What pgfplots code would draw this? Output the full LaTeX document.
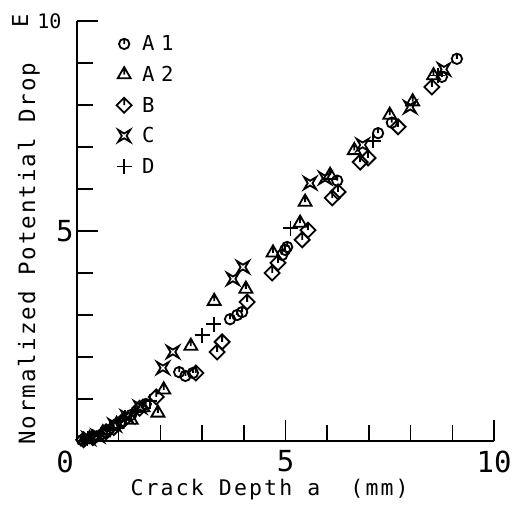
\documentclass[border=0pt]{standalone}
\usepackage{pgfplots}
\pgfplotsset{compat=1.18}
\usepackage{fontspec}
\setmainfont{DejaVu Sans Mono}
\newfontfamily\xlabfont{DejaVu Sans Mono}[LetterSpace=10]
\newfontfamily\ylabfont{DejaVu Sans Mono}[LetterSpace=8.7]
\newfontfamily\legfont{DejaVu Sans Mono}[LetterSpace=32]

% plotter-style marks: circle, triangle and diamond with a short stem,
% a concave four-pointed star and a plain cross
\pgfdeclareplotmark{circtick}{%
  \pgfpathcircle{\pgfpointorigin}{\pgfplotmarksize}%
  \pgfpathmoveto{\pgfpointorigin}%
  \pgfpathlineto{\pgfqpoint{0pt}{\pgfplotmarksize}}%
  \pgfusepathqstroke}
\pgfdeclareplotmark{tritick}{%
  \pgfpathmoveto{\pgfqpoint{0pt}{\pgfplotmarksize}}%
  \pgfpathlineto{\pgfqpoint{-0.866\pgfplotmarksize}{-0.5\pgfplotmarksize}}%
  \pgfpathlineto{\pgfqpoint{0.866\pgfplotmarksize}{-0.5\pgfplotmarksize}}%
  \pgfpathclose
  \pgfpathmoveto{\pgfqpoint{0pt}{\pgfplotmarksize}}%
  \pgfpathlineto{\pgfqpoint{0pt}{0pt}}%
  \pgfusepathqstroke}
\pgfdeclareplotmark{diamtick}{%
  \pgfpathmoveto{\pgfqpoint{0pt}{\pgfplotmarksize}}%
  \pgfpathlineto{\pgfqpoint{-\pgfplotmarksize}{0pt}}%
  \pgfpathlineto{\pgfqpoint{0pt}{-\pgfplotmarksize}}%
  \pgfpathlineto{\pgfqpoint{\pgfplotmarksize}{0pt}}%
  \pgfpathclose
  \pgfpathmoveto{\pgfqpoint{0pt}{\pgfplotmarksize}}%
  \pgfpathlineto{\pgfqpoint{0pt}{0pt}}%
  \pgfusepathqstroke}
\pgfdeclareplotmark{cstar}{%
  \pgfpathmoveto{\pgfqpoint{\pgfplotmarksize}{\pgfplotmarksize}}%
  \pgfpathlineto{\pgfqpoint{0pt}{0.4\pgfplotmarksize}}%
  \pgfpathlineto{\pgfqpoint{-\pgfplotmarksize}{\pgfplotmarksize}}%
  \pgfpathlineto{\pgfqpoint{-0.4\pgfplotmarksize}{0pt}}%
  \pgfpathlineto{\pgfqpoint{-\pgfplotmarksize}{-\pgfplotmarksize}}%
  \pgfpathlineto{\pgfqpoint{0pt}{-0.4\pgfplotmarksize}}%
  \pgfpathlineto{\pgfqpoint{\pgfplotmarksize}{-\pgfplotmarksize}}%
  \pgfpathlineto{\pgfqpoint{0.4\pgfplotmarksize}{0pt}}%
  \pgfpathclose
  \pgfusepathqstroke}

\pgfplotstableread{
a    v
0.12 0.02
0.20 0.04
0.45 0.10
0.60 0.16
0.75 0.25
1.05 0.45
1.30 0.62
1.65 0.88
2.45 1.64
2.60 1.55
2.78 1.62
3.67 2.90
3.84 3.00
3.96 3.07
4.92 4.43
4.99 4.55
5.04 4.62
6.24 6.20
7.22 7.33
7.55 7.58
8.75 8.67
9.11 9.10
}\dataAone
\pgfplotstableread{
a    v
0.30 0.06
0.62 0.20
0.95 0.40
1.30 0.50
1.58 0.80
1.94 0.67
2.08 1.22
2.73 2.26
3.29 3.33
4.05 3.62
4.70 4.48
5.35 5.19
5.47 5.69
6.07 6.33
6.65 6.92
7.50 7.76
8.05 8.08
8.55 8.70
}\dataAtwo
\pgfplotstableread{
a    v
0.16 0.03
0.38 0.08
0.70 0.22
0.88 0.32
1.10 0.48
1.50 0.78
1.90 1.05
2.85 1.62
3.36 2.12
3.48 2.36
4.08 3.31
4.68 4.00
4.82 4.24
5.40 4.79
5.54 5.02
6.12 5.79
6.26 5.93
6.79 6.64
6.98 6.74
7.70 7.48
8.51 8.43
}\dataB
\pgfplotstableread{
a    v
0.28 0.06
0.50 0.12
0.90 0.38
1.20 0.58
1.51 0.81
2.06 1.74
2.30 2.12
3.74 3.86
3.98 4.14
5.59 6.14
5.95 6.26
6.85 7.05
7.99 7.95
8.80 8.85
}\dataC
\pgfplotstableread{
a    v
0.25 0.05
0.58 0.16
0.80 0.27
1.15 0.55
1.40 0.68
1.75 0.95
3.00 2.52
3.28 2.78
5.12 5.07
7.10 7.15
8.65 8.70
}\dataD

\begin{document}
\begin{tikzpicture}
\useasboundingbox (-77bp,-71bp) rectangle (440bp,441bp);
\begin{axis}[
  at={(0bp,0bp)}, anchor=south west,
  width=417bp, height=420bp, scale only axis,
  xmin=0, xmax=10, ymin=0, ymax=10,
  axis x line=bottom, axis y line=left,
  axis line style={-, line width=1.8bp},
  tick align=inside,
  xtick={0,5,10},
  xticklabels={{\makebox[0pt]{0\hspace{24bp}}},5,10},
  xticklabel style={yshift=-6bp},
  minor xtick={1,2,3,4,6,7,8,9},
  ytick={5,10},
  yticklabels={5,{\fontsize{20bp}{20bp}\selectfont 10\hspace*{12bp}}},
  minor ytick={1,2,3,4,6,7,8,9},
  major tick length=21bp, minor tick length=16bp,
  every tick/.style={line width=1.6bp, black},
  tick label style={font=\fontsize{29bp}{29bp}\selectfont},
  xlabel={\xlabfont\fontsize{21.5bp}{21.5bp}\selectfont Crack Depth a\ \ (mm)},
  xlabel style={at={(axis description cs:0.1199,-0.1286)}, anchor=base west},
  ylabel={\ylabfont\fontsize{22.5bp}{22.5bp}\selectfont Normalized Potential Drop},
  ylabel style={at={(axis description cs:-0.1007,-0.0167)}, anchor=base west, rotate=0},
  legend style={draw=none, fill=none, at={(axis description cs:0.0947,0.9655)},
    anchor=north west, font=\legfont\fontsize{20.6bp}{20.6bp}\selectfont,
    row sep=14bp, inner sep=0bp, nodes={inner sep=0bp}},
  legend cell align=left,
  legend image code/.code={\draw[#1] plot coordinates {(8.5bp,0bp)};},
  /tikz/every odd column/.style={column sep=10.5bp},
  every axis plot/.append style={only marks, line width=1.8bp, black,
    mark options={solid}},
]
\addplot[mark=circtick, mark size=5.2bp] table[x=a,y=v] {\dataAone};
\addlegendentry{A1}
\addplot[mark=tritick, mark size=7.5bp] table[x=a,y=v] {\dataAtwo};
\addlegendentry{A2}
\addplot[mark=diamtick, mark size=7.5bp] table[x=a,y=v] {\dataB};
\addlegendentry{B}
\addplot[mark=cstar, mark size=6bp] table[x=a,y=v] {\dataC};
\addlegendentry{C}
\addplot[mark=+, mark size=7.5bp] table[x=a,y=v] {\dataD};
\addlegendentry{D}
\end{axis}
\node[rotate=90, font=\fontsize{22bp}{22bp}\selectfont] at (-57bp,420bp) {E};
\end{tikzpicture}
\end{document}
